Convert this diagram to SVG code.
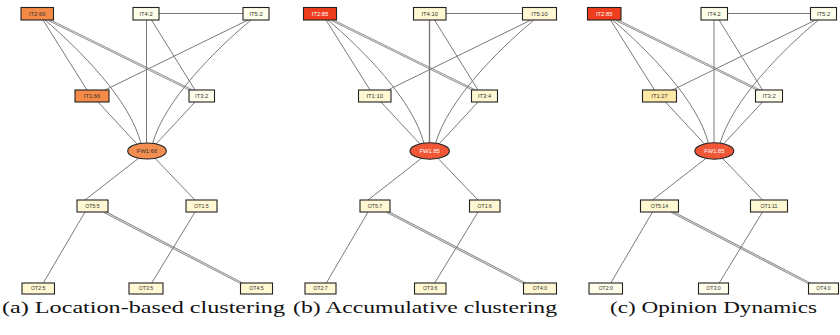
<svg xmlns="http://www.w3.org/2000/svg" width="840" height="335" viewBox="0 0 840 335">
<defs>
<pattern id="hatchO" width="1.6" height="4" patternUnits="userSpaceOnUse">
<rect width="1.6" height="4" fill="#F79458"/>
<rect width="0.6" height="4" fill="#EE8444"/>
</pattern>
<pattern id="hatchR" width="1.6" height="4" patternUnits="userSpaceOnUse">
<rect width="1.6" height="4" fill="#F55E3E"/>
<rect width="0.6" height="4" fill="#EB4A2A"/>
</pattern>
<style>
.e{fill:none;stroke:#7a7a7a;stroke-width:1}
.d1{fill:none;stroke:#858585;stroke-width:2.5}
.d2{fill:none;stroke:#ffffff;stroke-width:0.7}
.n{stroke:#222;stroke-width:1.1}
.t{font-family:"Liberation Sans",Arial,sans-serif;font-size:5.8px;fill:#333;text-anchor:middle}
.s{font-size:5.2px}
.w{fill:#ffffff}
.c0{fill:#FFFFEC}
.c1{fill:#FFF8D2}
.c2{fill:#FFE9A6}
.c3{fill:#F58A47}
.c4{fill:#F03D1E}
.cap{font-family:"Liberation Serif","Times New Roman",serif;font-size:17px;fill:#111}
</style>
</defs>

<!-- Panel (a) -->
<g id="panel-a">
<g id="edges-a">
<path class="d1" d="M49,20 L193,91"/><path class="d2" d="M49,20 L193,91"/>
<path class="d1" d="M104,211.7 L243,284"/><path class="d2" d="M104,211.7 L243,284"/>
<path class="e" d="M43,20 L87,90"/>
<path class="e" d="M45,20 C80,50 130,100 141,143.5"/>
<path class="e" d="M159,13.5 L243,13.5"/>
<path class="e" d="M146.5,20 L146.5,143"/>
<path class="e" d="M151.5,20 L195,90"/>
<path class="e" d="M248,20 L105,90"/>
<path class="e" d="M251,20 C215,50 165,100 152.5,143.5"/>
<path class="e" d="M98,102 L137,144"/>
<path class="e" d="M195,102 L156,144"/>
<path class="e" d="M138.5,158.3 L85,200"/>
<path class="e" d="M155,158.3 L195,200"/>
<path class="e" d="M85,212 L43.3,283"/>
<path class="e" d="M195,212 L151.7,283"/>
</g>
<g id="a-IT2"><rect class="n c3" x="21" y="7.5" width="32.5" height="12.5"/><text class="t" x="37.2" y="15.8">IT2:66</text></g>
<g id="a-IT4"><rect class="n c0" x="133" y="7.5" width="26" height="12.5"/><text class="t" x="146" y="15.8">IT4:2</text></g>
<g id="a-IT5"><rect class="n c0" x="243" y="7.5" width="26" height="12.5"/><text class="t" x="256" y="15.8">IT5:2</text></g>
<g id="a-IT1"><rect class="n c3" x="75" y="90" width="34" height="12"/><text class="t" x="92" y="98">IT1:66</text></g>
<g id="a-IT3"><rect class="n c0" x="189" y="90" width="25.5" height="12"/><text class="t" x="201.7" y="98">IT3:2</text></g>
<g id="a-FW1"><ellipse class="n" cx="147" cy="151" rx="19.3" ry="8" fill="url(#hatchO)"/><text class="t" x="147" y="153">FW1:66</text></g>
<g id="a-OT5"><rect class="n c1" x="77" y="200" width="31" height="12"/><text class="t s" x="92.5" y="207.8">OT5:5</text></g>
<g id="a-OT1"><rect class="n c1" x="186" y="200" width="31" height="12"/><text class="t s" x="201.5" y="207.8">OT1:5</text></g>
<g id="a-OT2"><rect class="n c1" x="22" y="283" width="32.5" height="11"/><text class="t s" x="38.2" y="290.3">OT2:5</text></g>
<g id="a-OT3"><rect class="n c1" x="129" y="283" width="34" height="11"/><text class="t s" x="146" y="290.3">OT3:5</text></g>
<g id="a-OT4"><rect class="n c1" x="240.5" y="283" width="32" height="11"/><text class="t s" x="256.5" y="290.3">OT4:5</text></g>
</g>

<!-- Panel (b) -->
<g id="panel-b">
<g id="edges-b" transform="translate(283,0)">
<path class="d1" d="M49,20 L193,91"/><path class="d2" d="M49,20 L193,91"/>
<path class="d1" d="M104,211.7 L243,284"/><path class="d2" d="M104,211.7 L243,284"/>
<path class="e" d="M43,20 L87,90"/>
<path class="e" d="M45,20 C80,50 130,100 141,143.5"/>
<path class="e" d="M163,13.5 L240,13.5"/>
<path class="e" d="M146.5,20 L146.5,143" style="stroke-width:1.4"/>
<path class="e" d="M151.5,20 L195,90"/>
<path class="e" d="M248,20 L105,90"/>
<path class="e" d="M251,20 C215,50 165,100 152.5,143.5"/>
<path class="e" d="M98,102 L137,144"/>
<path class="e" d="M195,102 L156,144"/>
<path class="e" d="M138.5,158.3 L85,200"/>
<path class="e" d="M155,158.3 L195,200"/>
<path class="e" d="M85,212 L43.3,283"/>
<path class="e" d="M195,212 L151.7,283"/>
</g>
<g id="b-IT2"><rect class="n c4" x="303.5" y="7.5" width="33" height="12.5"/><text class="t w" x="320" y="15.8">IT2:85</text></g>
<g id="b-IT4"><rect class="n c1" x="413.5" y="7.5" width="32.5" height="12.5"/><text class="t" x="429.7" y="15.8">IT4:10</text></g>
<g id="b-IT5"><rect class="n c1" x="522.5" y="7.5" width="34" height="12.5"/><text class="t" x="539.5" y="15.8">IT5:10</text></g>
<g id="b-IT1"><rect class="n c1" x="358.5" y="90" width="32.5" height="12"/><text class="t" x="374.7" y="98">IT1:10</text></g>
<g id="b-IT3"><rect class="n c1" x="471.5" y="90" width="26" height="12"/><text class="t" x="484.5" y="98">IT3:4</text></g>
<g id="b-FW1"><ellipse class="n" cx="429.7" cy="151" rx="19.7" ry="8.2" fill="url(#hatchR)"/><text class="t w" x="429.7" y="153">FW1:85</text></g>
<g id="b-OT5"><rect class="n c1" x="360" y="200" width="30" height="12"/><text class="t s" x="375" y="207.8">OT5:7</text></g>
<g id="b-OT1"><rect class="n c1" x="469.5" y="200" width="30.5" height="12"/><text class="t s" x="484.7" y="207.8">OT1:6</text></g>
<g id="b-OT2"><rect class="n c1" x="305" y="283" width="31" height="11"/><text class="t s" x="320.5" y="290.3">OT2:7</text></g>
<g id="b-OT3"><rect class="n c1" x="414.5" y="283" width="31.5" height="11"/><text class="t s" x="430.2" y="290.3">OT3:6</text></g>
<g id="b-OT4"><rect class="n c1" x="523.5" y="283" width="33" height="11"/><text class="t s" x="540" y="290.3">OT4:0</text></g>
</g>

<!-- Panel (c) -->
<g id="panel-c">
<g id="edges-c" transform="translate(567.5,0)">
<path class="d1" d="M49,20 L193,91"/><path class="d2" d="M49,20 L193,91"/>
<path class="d1" d="M104,211.7 L243,284"/><path class="d2" d="M104,211.7 L243,284"/>
<path class="e" d="M43,20 L87,90"/>
<path class="e" d="M45,20 C80,50 130,100 141,143.5"/>
<path class="e" d="M159,13.5 L243,13.5"/>
<path class="e" d="M146.5,20 L146.5,143"/>
<path class="e" d="M151.5,20 L195,90"/>
<path class="e" d="M248,20 L105,90"/>
<path class="e" d="M251,20 C215,50 165,100 152.5,143.5"/>
<path class="e" d="M98,102 L137,144"/>
<path class="e" d="M195,102 L156,144"/>
<path class="e" d="M138.5,158.3 L85,200"/>
<path class="e" d="M155,158.3 L195,200"/>
<path class="e" d="M85,212 L43.3,283"/>
<path class="e" d="M195,212 L151.7,283"/>
</g>
<g id="c-IT2"><rect class="n c4" x="587.5" y="7.5" width="33.5" height="12.5"/><text class="t w" x="604.2" y="15.8">IT2:85</text></g>
<g id="c-IT4"><rect class="n c0" x="701" y="7.5" width="26.5" height="12.5"/><text class="t" x="714.2" y="15.8">IT4:2</text></g>
<g id="c-IT5"><rect class="n c0" x="810.5" y="7.5" width="26" height="12.5"/><text class="t" x="823.5" y="15.8">IT5:2</text></g>
<g id="c-IT1"><rect class="n c2" x="642.5" y="90" width="34" height="12"/><text class="t" x="659.5" y="98">IT1:27</text></g>
<g id="c-IT3"><rect class="n c0" x="755.5" y="90" width="27" height="12"/><text class="t" x="769" y="98">IT3:2</text></g>
<g id="c-FW1"><ellipse class="n" cx="714.3" cy="151" rx="19.5" ry="8.2" fill="url(#hatchR)"/><text class="t w" x="714.3" y="153">FW1:85</text></g>
<g id="c-OT5"><rect class="n c1" x="640.5" y="200" width="38" height="12"/><text class="t s" x="659.5" y="207.8">OT5:14</text></g>
<g id="c-OT1"><rect class="n c1" x="750.5" y="200" width="37" height="12"/><text class="t s" x="769" y="207.8">OT1:11</text></g>
<g id="c-OT2"><rect class="n c0" x="589" y="283" width="33.5" height="11"/><text class="t s" x="605.7" y="290.3">OT2:0</text></g>
<g id="c-OT3"><rect class="n c0" x="698.5" y="283" width="30" height="11"/><text class="t s" x="713.5" y="290.3">OT3:0</text></g>
<g id="c-OT4"><rect class="n c0" x="808.5" y="283" width="30" height="11"/><text class="t s" x="823.5" y="290.3">OT4:0</text></g>
</g>

<g id="captions">
<text class="cap" x="2" y="313" textLength="283" lengthAdjust="spacingAndGlyphs">(a) Location-based clustering</text>
<text class="cap" x="293" y="313" textLength="264" lengthAdjust="spacingAndGlyphs">(b) Accumulative clustering</text>
<text class="cap" x="610" y="313" textLength="207" lengthAdjust="spacingAndGlyphs">(c) Opinion Dynamics</text>
</g>
</svg>
